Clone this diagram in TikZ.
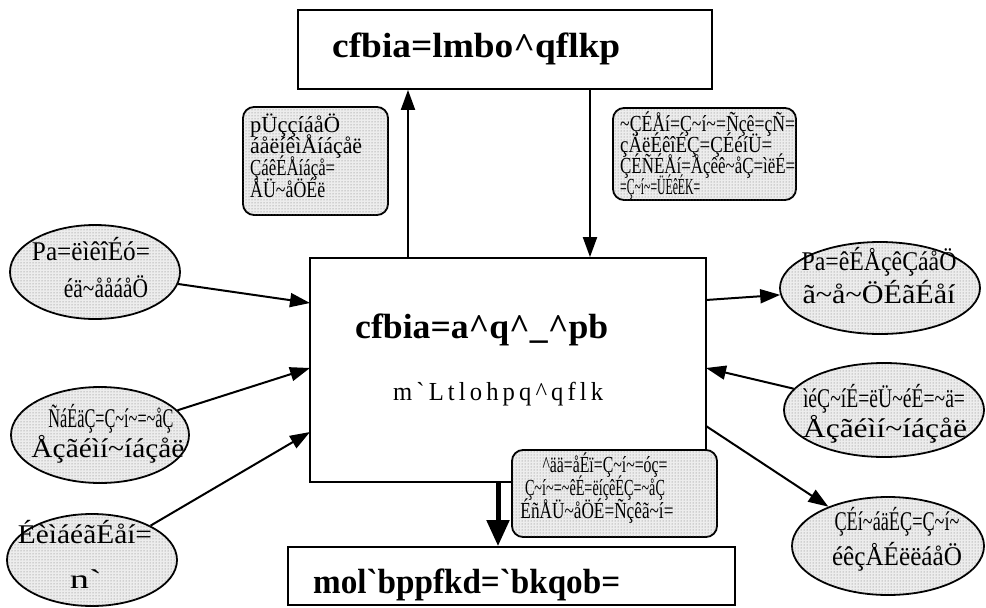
\documentclass[tikz,border=0pt]{standalone}
\usepackage{graphicx}
\usepackage{fontspec}
\newfontfamily\tf{Liberation Serif}
\newcommand\tld{\textasciitilde}
\newcommand\crt{\textasciicircum}
\newcommand\grv{\textasciigrave}
\newcommand\usc{\textunderscore}
\newcommand\fw[2]{\resizebox{#1pt}{\height}{#2}}
\usetikzlibrary{arrows.meta,shapes.geometric,patterns}
\begin{document}
\begin{tikzpicture}[x=1pt,y=-1pt,
  box/.style={draw, line width=1.8pt, rectangle, inner sep=0},
  dotted fill/.style={fill=black!7, postaction={pattern=dots, pattern color=black!55}},
  ell/.style={draw, line width=1.8pt, ellipse, inner sep=0, dotted fill},
  callout/.style={draw, line width=1.8pt, rounded corners=11pt, dotted fill},
  etxt/.style={inner sep=0, anchor=base, font=\tf\fontsize{27}{28}\selectfont},
  ctxt/.style={inner sep=0, anchor=base west, font=\tf\fontsize{23}{22}\selectfont},
  cctxt/.style={inner sep=0, anchor=base, font=\tf\fontsize{23}{22}\selectfont},
  title/.style={inner sep=0, anchor=base west, font=\tf\bfseries\fontsize{35}{35}\selectfont},
  arr/.style={line width=2pt, -{Triangle[length=20pt,width=14pt]}},
  bigarr/.style={line width=5pt, -{Triangle[length=26pt,width=22pt]}}]
\useasboundingbox (0,0) rectangle (986,608);

% boxes
\node[box, minimum width=414, minimum height=79] (top) at (505,49.5) {};
\node[title] (topt) at (332,57) {\fw{288}{cfbia=lmbo\crt qflkp}};
\node[box, minimum width=396, minimum height=224] (db) at (508,370) {};
\node[title] (dbt) at (355,338) {\fw{253}{cfbia=a\crt q\crt\usc\crt pb}};
\node[inner sep=0, anchor=base west, font=\tf\fontsize{26}{26}\selectfont] (dbs) at (393,400) {\fw{210}{m\,\grv\,L\,t\,l\,o\,h\,p\,q\,\crt\,q\,f\,l\,k}};
\node[box, minimum width=447, minimum height=58] (pc) at (511.5,576) {};
\node[title] (pct) at (313,593) {\fw{307}{mol\grv bppfkd=\grv bkqob=}};

% callouts
\node[callout, minimum width=145, minimum height=108] (cl) at (315.5,161) {};
\node[ctxt] (cl1) at (250,132) {\fw{90}{pÜççíáåÖ}};
\node[ctxt] (cl2) at (250,153) {\fw{112}{áåëíêìÅíáçåë}};
\node[ctxt] (cl3) at (250,175) {\fw{85}{ÇáêÉÅíáçå=}};
\node[ctxt] (cl4) at (250,197) {\fw{75}{ÅÜ\tld åÖÉë}};

\node[callout, minimum width=183, minimum height=92] (cr) at (704.5,154) {};
\node[ctxt] (cr1) at (620,131) {\fw{175}{\tld ÇÉÅí=Ç\tld í\tld =Ñçê=çÑ=}};
\node[ctxt] (cr2) at (620,152) {\fw{152}{çÄëÉêîÉÇ=ÇÉéíÜ=}};
\node[ctxt] (cr3) at (620,173) {\fw{175}{ÇÉÑÉÅí=Åçêê\tld åÇ=ìëÉ=}};
\node[ctxt] (cr4) at (620,194) {\fw{80}{=Ç\tld í\tld =ÜÉêÉK=}};

\node[callout, minimum width=205, minimum height=87] (cb) at (614.5,493.5) {};
\node[cctxt] (cb1) at (605,472) {\fw{125}{\crt ää=åÉï=Ç\tld í\tld =óç=}};
\node[cctxt] (cb2) at (595,495) {\fw{140}{Ç\tld í\tld =\tld êÉ=ëíçêÉÇ=\tld åÇ}};
\node[cctxt] (cb3) at (597,518) {\fw{153}{ÉñÅÜ\tld åÖÉ=Ñçêã\tld í=}};

% ellipses
\node[ell, minimum width=170, minimum height=94] (l1) at (95,272) {};
\node[etxt] (l1a) at (91,260) {\fw{118}{Pa=ëìêîÉó=}};
\node[etxt] (l1b) at (106,297) {\fw{84}{éä\tld ååáåÖ}};
\node[ell, minimum width=178, minimum height=96] (l2) at (100,435) {};
\node[etxt] (l2a) at (111,427) {\fw{125}{ÑáÉäÇ=Ç\tld í\tld =\tld åÇ}};
\node[etxt] (l2b) at (108,457) {\fw{153}{Åçãéìí\tld íáçåë}};
\node[ell, minimum width=170, minimum height=92] (l3) at (92,560) {};
\node[etxt] (l3a) at (85,543) {\fw{134}{ÉèìáéãÉåí=}};
\node[etxt] (l3b) at (86,588) {\fw{32}{n\grv}};

\node[ell, minimum width=200, minimum height=92] (r1) at (880,288) {};
\node[etxt] (r1a) at (879,270) {\fw{155}{Pa=êÉÅçêÇáåÖ}};
\node[etxt] (r1b) at (879,303) {\fw{153}{ã\tld å\tld ÖÉãÉåí}};
\node[ell, minimum width=200, minimum height=94] (r2) at (884,410) {};
\node[etxt] (r2a) at (884,407) {\fw{162}{ìéÇ\tld íÉ=ëÜ\tld éÉ=\tld ä=}};
\node[etxt] (r2b) at (885,437) {\fw{164}{Åçãéìí\tld íáçåë}};
\node[ell, minimum width=192, minimum height=98] (r3) at (888,546) {};
\node[etxt] (r3a) at (897,530) {\fw{125}{ÇÉí\tld áäÉÇ=Ç\tld í\tld}};
\node[etxt] (r3b) at (897,565) {\fw{130}{éêçÅÉëëáåÖ}};

% anchor points on the boxes
\coordinate (xu) at (408,0);
\coordinate (xd) at (590,0);
\coordinate (xb) at (498,0);
\coordinate (pl1) at (310,303);
\coordinate (pl2) at (310,368);
\coordinate (pl3) at (310,432);
\coordinate (pr1) at (706,300);
\coordinate (pr2) at (706,368);
\coordinate (pr3) at (706,426);

% connectors
\draw[arr] (xu |- db.north) -- (xu |- top.south);
\draw[arr] (xd |- top.south) -- (xd |- db.north);
\draw[bigarr] (xb |- db.south) -- (xb |- pc.north);
\draw[arr] (l1) -- (pl1);
\draw[arr] (l2) -- (pl2);
\draw[arr] (l3) -- (pl3);
\draw[arr] (pr1) -- (r1);
\draw[arr] (r2) -- (pr2);
\draw[arr] (pr3) -- (r3);
\end{tikzpicture}
\end{document}
